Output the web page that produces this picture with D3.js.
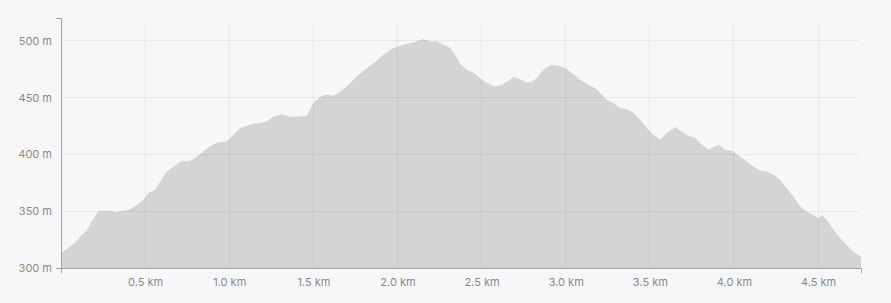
<!DOCTYPE html>
<html>
<head>
<meta charset="utf-8">
<script src="https://cdn.jsdelivr.net/npm/d3@7"></script>
<style>
  html, body { margin: 0; padding: 0; background: #f7f7f9; }
  svg { display: block; }
  .tick text { font-family: "Helvetica Neue", Inter, "Liberation Sans", Arial, sans-serif; font-size: 11px; fill: #8a8a8e; }
</style>
</head>
<body>
<svg id="chart" width="891" height="303"></svg>
<script>
const distanceKm = [0,0.034,0.064,0.083,0.123,0.153,0.183,0.222,0.251,0.291,0.321,0.381,0.410,0.450,0.489,0.519,0.559,0.589,0.628,0.668,0.718,0.747,0.777,0.807,0.846,0.886,0.926,0.985,1.024,1.064,1.104,1.143,1.183,1.223,1.262,1.312,1.361,1.411,1.461,1.500,1.540,1.570,1.619,1.659,1.708,1.758,1.807,1.857,1.916,1.976,2.035,2.095,2.154,2.194,2.234,2.273,2.313,2.342,2.372,2.412,2.451,2.491,2.531,2.580,2.620,2.650,2.689,2.729,2.769,2.798,2.828,2.867,2.917,2.957,2.996,3.036,3.086,3.135,3.175,3.205,3.244,3.284,3.323,3.363,3.403,3.442,3.482,3.521,3.561,3.601,3.650,3.690,3.730,3.769,3.809,3.848,3.908,3.948,3.997,4.037,4.077,4.116,4.156,4.196,4.235,4.275,4.315,4.354,4.394,4.434,4.473,4.503,4.523,4.553,4.592,4.632,4.671,4.711,4.741,4.755];
const elevationM = [313,317,320,322,329,333,341,350,350,350.5,349,350.5,351.7,355.5,360,366,368.7,376,385,389,394.5,393.7,395,398,402.5,407,410.4,411.3,417,423,425,427,427.5,429,433,435.4,433,433,434,445,450.4,452.4,451.5,455,461,468.5,474.4,480,487.7,493.5,496.5,498.5,501.5,499.4,499.4,496.5,493.5,487.7,480,474.4,472,467,462.7,459.7,461,464,468,466,463.3,464,467,474.4,478.9,478,476,471.5,465.6,461,458.3,454,448,445,440.7,439.8,436.3,430.4,423,417.2,412.8,418.7,424,420,416.3,414.3,408.4,404,408.4,404,402.5,398,393.7,389,385.7,384.8,382,377.5,370,362.8,354,349.6,346.7,343.8,346.7,342.3,333.5,326,320,314.4,311.5,310];
const xTicks = [0.5,1.0,1.5,2.0,2.5,3.0,3.5,4.0,4.5];
const yTicks = [300,350,400,450,500];
const yDomain = [300,520];

const data = distanceKm.map((d,i) => ({d, e: elevationM[i]}));
const svg = d3.select("#chart");
const mLeft = 61, mRight = 861, mTop = 18, mBottom = 268;

const x = d3.scaleLinear().domain([0, d3.max(distanceKm)]).range([mLeft, mRight]);
const y = d3.scaleLinear().domain(yDomain).range([mBottom, mTop]);

// area
const area = d3.area().x(d => x(d.d)).y0(y(yDomain[0])).y1(d => y(d.e)).curve(d3.curveLinear);
svg.append("path").datum(data).attr("d", area).attr("fill", "#d4d4d6");

// grid (semi-transparent, drawn over the area)
svg.append("g").selectAll("line").data(yTicks.slice(1)).join("line")
  .attr("x1", mLeft).attr("x2", mRight - 2).attr("y1", d => y(d)).attr("y2", d => y(d))
  .attr("stroke", "#000").attr("stroke-opacity", 0.055).attr("shape-rendering","crispEdges");
svg.append("g").selectAll("line").data(xTicks).join("line")
  .attr("x1", d => x(d)).attr("x2", d => x(d)).attr("y1", mTop + 5).attr("y2", mBottom)
  .attr("stroke", "#000").attr("stroke-opacity", 0.055).attr("shape-rendering","crispEdges");

// axes
const xAxis = d3.axisBottom(x).tickValues(xTicks).tickSizeInner(0).tickSizeOuter(5).tickPadding(10)
  .tickFormat(d => d3.format(".1f")(d) + " km");
const yAxis = d3.axisLeft(y).tickValues(yTicks).tickSizeInner(0).tickSizeOuter(5).tickPadding(9)
  .tickFormat(d => d + " m");

const gx = svg.append("g").attr("transform", `translate(0,${mBottom})`).call(xAxis);
const gy = svg.append("g").attr("transform", `translate(${mLeft},0)`).call(yAxis);
[gx, gy].forEach(g => {
  g.select(".domain").attr("stroke", "#a5a5a8").attr("shape-rendering","crispEdges");
  g.selectAll(".tick line").attr("stroke", "#a5a5a8");
});
gy.select(".tick:first-of-type line").attr("x2", -5);
</script>
</body>
</html>
